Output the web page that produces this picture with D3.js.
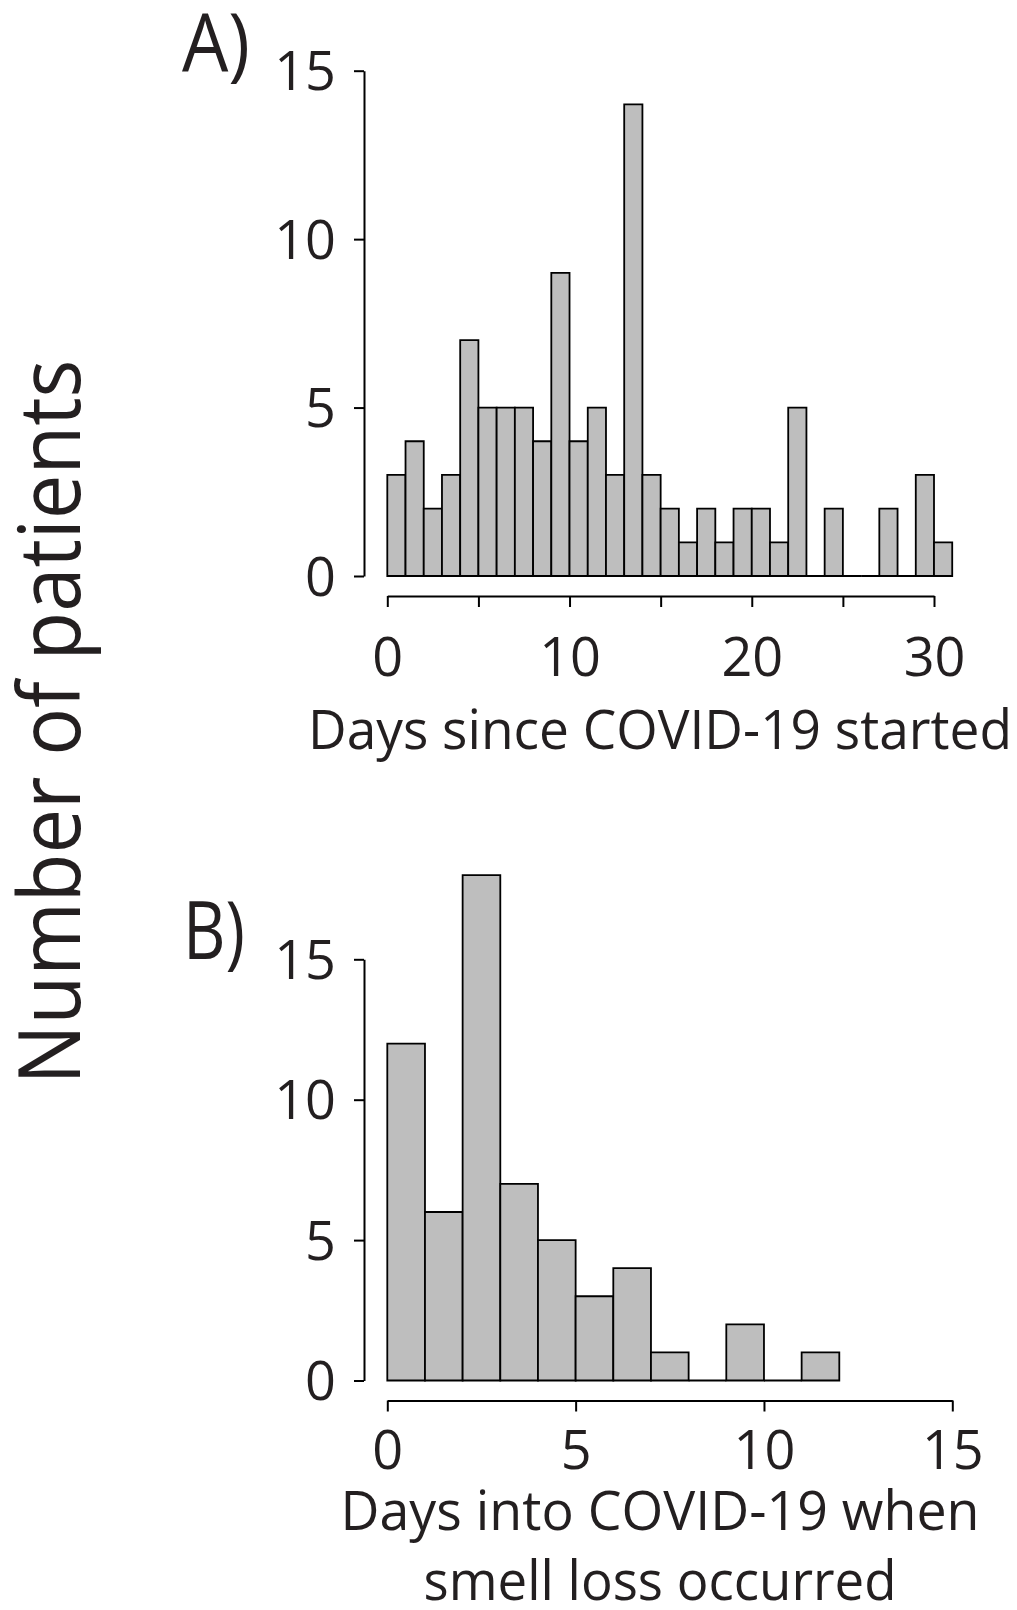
<!DOCTYPE html>
<html>
<head>
<meta charset="utf-8">
<style>
  body { margin: 0; background: #fff; }
  svg text { font-family: "Open Sans", "Noto Sans", sans-serif; fill: #231f20; }
</style>
</head>
<body>
<script src="https://cdn.jsdelivr.net/npm/d3@7"></script>
<script>

  // A) days since COVID-19 started, one-day bins (bin start)
  var onsetDays = [0, 1, 2, 3, 4, 5, 6, 7, 8, 9, 10, 11, 12, 13, 14, 15,
                   16, 17, 18, 19, 20, 21, 22, 23, 24, 25, 26, 27, 28, 29, 30];
  var onsetCounts = [3, 4, 2, 3, 7, 5, 5, 5, 4, 9, 4, 5, 3, 14, 3, 2,
                     1, 2, 1, 2, 2, 1, 5, 0, 2, 0, 0, 2, 0, 3, 1];
  var onsetTicks = [0, 5, 10, 15, 20, 25, 30];
  var onsetTickLabels = [0, 10, 20, 30];

  // B) days into COVID-19 when smell loss occurred
  var smellDays = [0, 1, 2, 3, 4, 5, 6, 7, 8, 9, 10, 11];
  var smellCounts = [12, 6, 18, 7, 5, 3, 4, 1, 0, 2, 0, 1];
  var smellTicks = [0, 5, 10, 15];
  var smellTickLabels = [0, 5, 10, 15];

  var countTicks = [0, 5, 10, 15];

  var width = 1017;
  var height = 1610;

  var svg = d3.select("body")
      .append("svg")
      .attr("width", width)
      .attr("height", height);

  function drawPanel(p) {
    var x = d3.scaleLinear().domain(p.xDomain).range(p.xRange);
    var y = d3.scaleLinear().domain([0, 15]).range(p.yRange);
    var base = y(0);

    // bars (zero bins still show as a line on the baseline)
    svg.append("g")
      .selectAll("path")
      .data(p.days)
      .enter()
        .append("path")
        .attr("d", function (d, i) {
          var x0 = x(d), x1 = x(d + 1), yt = y(p.counts[i]);
          return "M" + x0 + "," + base + "V" + yt + "H" + x1 + "V" + base + "Z";
        })
        .attr("fill", "#bebebe")
        .attr("stroke", "#000")
        .attr("stroke-width", 1.8);

    // y axis
    var gy = svg.append("g")
        .attr("transform", "translate(" + p.yAxisX + ",0)")
        .call(d3.axisLeft(y).tickValues(countTicks).tickSize(10)
              .tickSizeOuter(0).tickPadding(18));

    // x axis
    var gx = svg.append("g")
        .attr("transform", "translate(0," + p.xAxisY + ")")
        .call(d3.axisBottom(x).tickValues(p.ticks).tickSize(11)
              .tickSizeOuter(0)
              .tickFormat(function (d) {
                return p.tickLabels.indexOf(d) >= 0 ? d : "";
              }));

    [gy, gx].forEach(function (g) {
      g.attr("font-family", null).attr("font-size", null);
      g.select(".domain").attr("stroke", "#000").attr("stroke-width", 2);
      g.selectAll(".tick line").attr("stroke", "#000").attr("stroke-width", 2);
      g.selectAll(".tick text")
        .style("font-size", "54px")
        .attr("fill", "#231f20");
    });

    gy.selectAll(".tick text").attr("dy", "0.357em");
    gx.selectAll(".tick text").attr("y", p.labelOffset).attr("dy", "0.357em");

    // panel letter
    svg.append("text")
      .attr("x", p.letterX)
      .attr("y", p.letterY)
      .attr("textLength", p.letterW)
      .attr("lengthAdjust", "spacingAndGlyphs")
      .style("font-size", "80px")
      .text(p.letter);

    // x title lines
    p.title.forEach(function (t) {
      svg.append("text")
        .attr("x", 660)
        .attr("y", t.y)
        .attr("text-anchor", "middle")
        .attr("textLength", t.w)
        .attr("lengthAdjust", "spacingAndGlyphs")
        .style("font-size", "54px")
        .text(t.text);
    });
  }

  drawPanel({
    days: onsetDays,
    counts: onsetCounts,
    ticks: onsetTicks,
    tickLabels: onsetTickLabels,
    xDomain: [0, 30],
    xRange: [387.3, 934],
    yRange: [576, 70.7],
    yAxisX: 364,
    xAxisY: 596,
    labelOffset: 61,
    letter: "A)",
    letterX: 182,
    letterY: 71,
    letterW: 68,
    title: [{text: "Days since COVID-19 started", y: 749, w: 704}]
  });

  drawPanel({
    days: smellDays,
    counts: smellCounts,
    ticks: smellTicks,
    tickLabels: smellTickLabels,
    xDomain: [0, 15],
    xRange: [387.3, 952.3],
    yRange: [1380.5, 959.3],
    yAxisX: 364,
    xAxisY: 1400.5,
    labelOffset: 49,
    letter: "B)",
    letterX: 183,
    letterY: 958.5,
    letterW: 62,
    title: [
      {text: "Days into COVID-19 when", y: 1530, w: 639},
      {text: "smell loss occurred", y: 1600, w: 473}
    ]
  });

  // shared y label
  svg.append("text")
    .attr("transform", "translate(80,722) rotate(-90)")
    .attr("text-anchor", "middle")
    .attr("textLength", 725)
    .attr("lengthAdjust", "spacingAndGlyphs")
    .style("font-size", "86px")
    .text("Number of patients");

</script>
</body>
</html>
